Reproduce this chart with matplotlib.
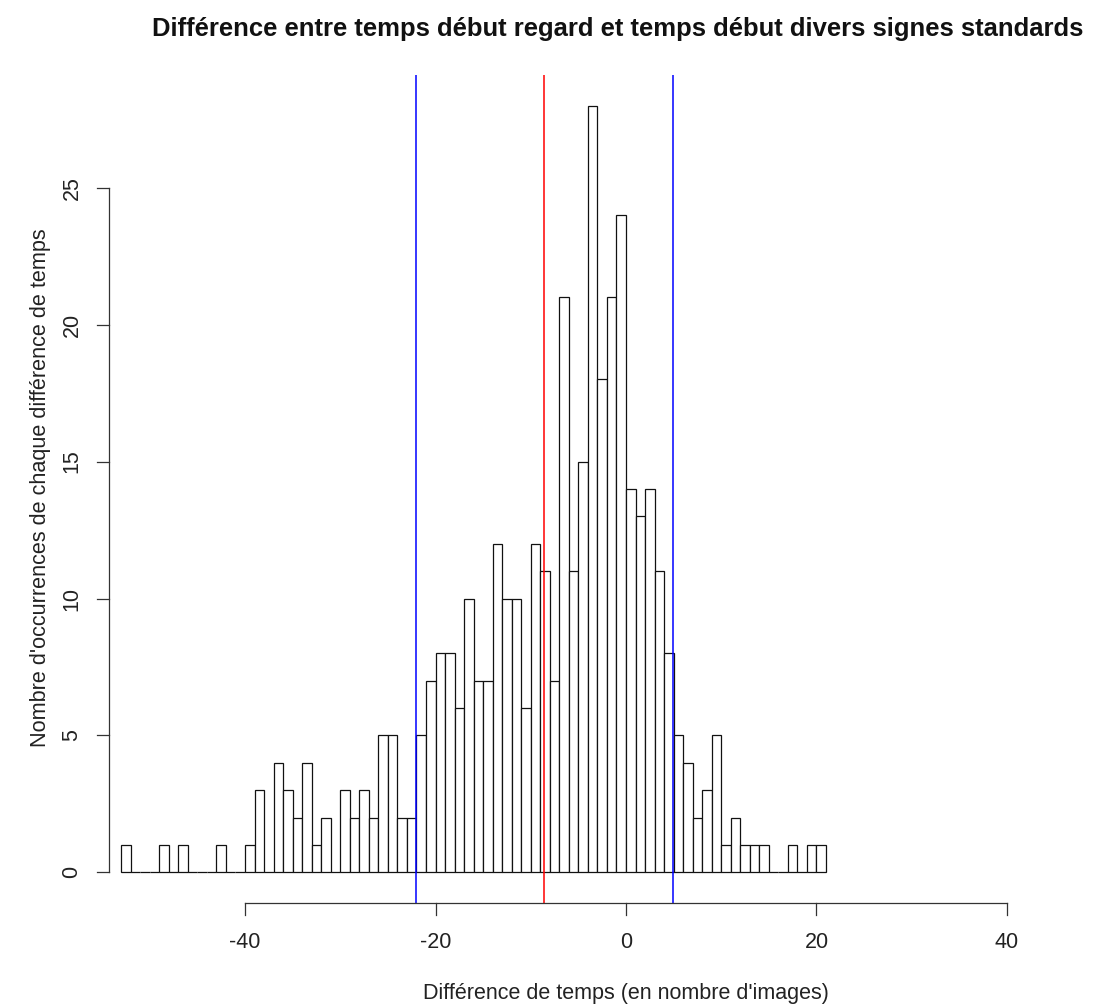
import numpy as np
import matplotlib
matplotlib.use("Agg")
import matplotlib.pyplot as plt

plt.rcParams['font.family'] = ['Liberation Sans', 'DejaVu Sans']

# histogram bins (left edges) and counts
bin_left = list(range(-53, 21))
counts = [1, 0, 0, 0, 1, 0, 1, 0, 0, 0, 1, 0, 0, 1, 3, 0, 4, 3, 2, 4,
          1, 2, 0, 3, 2, 3, 2, 5, 5, 2, 2, 5, 7, 8, 8, 6, 10, 7, 7, 12,
          10, 10, 6, 12, 11, 7, 21, 11, 15, 28, 18, 21, 24, 14, 13, 14, 11, 8, 5, 4,
          2, 3, 5, 1, 2, 1, 1, 1, 0, 0, 1, 0, 1, 1]
bin_width = 1
mean_line = -8.57
sd_lines = [-22.1, 4.97]
x_ticks = [-40, -20, 0, 20, 40]
y_ticks = [0, 5, 10, 15, 20, 25]

W, H = 1105, 1007
fig = plt.figure(figsize=(W / 100, H / 100), dpi=100)
left_px, right_px, top_px, bot_px = 109, 1105, 75, 903
ax = fig.add_axes([left_px / W, 1 - bot_px / H, (right_px - left_px) / W, (bot_px - top_px) / H])

ax.bar(bin_left, counts, width=bin_width, align='edge', facecolor='white',
       edgecolor='#111111', linewidth=0.9)
ax.axvline(mean_line, color='#ff0000', linewidth=1.1)
for v in sd_lines:
    ax.axvline(v, color='#0000ff', linewidth=1.1)

ax.set_xlim(-54.28, 50.29)
ax.set_ylim(-1.12, 29.12)
for s in ax.spines.values():
    s.set_visible(False)
ax.set_xticks([])
ax.set_yticks([])

axis_col = '#333333'
text_col = '#222222'
tick_fs = 15.5
# R-style axes
ax.plot([x_ticks[0], x_ticks[-1]], [0, 0], transform=ax.get_xaxis_transform(), color=axis_col,
        linewidth=0.9, clip_on=False)
ax.plot([0, 0], [y_ticks[0], y_ticks[-1]], transform=ax.get_yaxis_transform(),
        color=axis_col, linewidth=0.9, clip_on=False)
tick_len_px = 12
for t in x_ticks:
    ax.plot([t, t], [0, -tick_len_px / (bot_px - top_px)], transform=ax.get_xaxis_transform(),
            color=axis_col, linewidth=0.9, clip_on=False)
    ax.text(t, -40 / (bot_px - top_px), f"{t}", transform=ax.get_xaxis_transform(),
            ha='center', va='center', fontsize=tick_fs, color=text_col)
for t in y_ticks:
    ax.plot([0, -tick_len_px / (right_px - left_px)], [t, t], transform=ax.get_yaxis_transform(),
            color=axis_col, linewidth=0.9, clip_on=False)
    ax.text(-37 / (right_px - left_px), t, f"{t}", transform=ax.get_yaxis_transform(),
            ha='center', va='center', fontsize=tick_fs, rotation=90, color=text_col)

fig.text(618 / W, 1 - 29 / H, "Différence entre temps début regard et temps début divers signes standards",
         ha='center', va='center', fontsize=18.45, fontweight='bold', color='#111111')
fig.text(626 / W, 1 - 994 / H, "Différence de temps (en nombre d'images)",
         ha='center', va='center', fontsize=15.5, color=text_col)
fig.text(41 / W, 1 - 488 / H, "Nombre d'occurrences de chaque différence de temps",
         ha='center', va='center', fontsize=15.6, rotation=90, color=text_col)

fig.savefig("out.png", dpi=100)
